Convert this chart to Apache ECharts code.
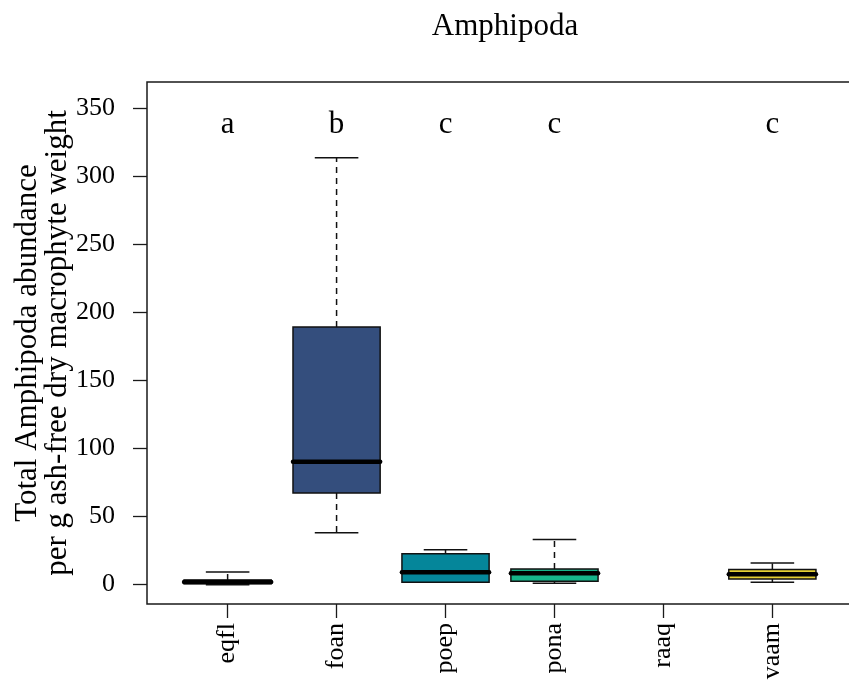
<!DOCTYPE html>
<html>
<head>
<meta charset="utf-8">
<script src="https://cdn.jsdelivr.net/npm/echarts@6/dist/echarts.min.js"></script>
<style>
  html, body { margin: 0; padding: 0; background: #ffffff; }
  #chart { width: 849px; height: 694px; }
</style>
</head>
<body>
<div id="chart"></div>
<script>
// Macrophyte species groups
const categories = ['eqfl', 'foan', 'poep', 'pona', 'raaq', 'vaam'];
// Five-number summaries per group: [lower whisker, Q1, median, Q3, upper whisker]
const boxStats = [
  [0.0, 0.6, 2.0, 3.4, 9.3],
  [38.2, 67.4, 90.3, 189.2, 313.6],
  [1.7, 1.7, 9.2, 22.7, 25.7],
  [1.0, 2.5, 8.3, 11.5, 33.2],
  null,
  [1.7, 4.2, 7.7, 11.2, 16.0]
];
// Fill colour of each box
const boxColors = ['#46327E', '#344E7D', '#05869A', '#16B48B', '#7AD151', '#E4CF35'];
// Significance group letters drawn above each box
const groupLetters = ['a', 'b', 'c', 'c', '', 'c'];
const letterLevel = 338;
// Y-axis tick values
const yTicks = [0, 50, 100, 150, 200, 250, 300, 350];

const FONT = '"Liberation Serif", "DejaVu Serif", serif';
const BASE = 26;

const boxData = [];
boxStats.forEach((s, i) => { if (s) boxData.push([i + 1].concat(s)); });

const letterData = groupLetters.map((t, i) => [i + 1, letterLevel, t]);

const chart = echarts.init(document.getElementById('chart'), null, { renderer: 'canvas' });

chart.setOption({
  animation: false,
  backgroundColor: '#ffffff',
  title: {
    text: 'Amphipoda',
    left: 500, top: 6, textAlign: 'center',
    textStyle: { fontFamily: FONT, fontSize: 31, fontWeight: 'normal', color: '#000' }
  },
  grid: {
    left: 147, top: 82, width: 706, height: 522,
    outerBoundsMode: 'none', containLabel: false,
    show: true, borderColor: '#1a1a1a', borderWidth: 1.5, backgroundColor: 'transparent'
  },
  xAxis: {
    type: 'value', min: 0.26, max: 6.74,
    splitLine: { show: false },
    axisLine: { show: false, onZero: false },
    axisTick: { show: true, inside: false, length: 14, customValues: [1, 2, 3, 4, 5, 6],
      lineStyle: { color: '#1a1a1a', width: 1.3 } },
    axisLabel: {
      customValues: [1, 2, 3, 4, 5, 6],
      rotate: 90, margin: 19,
      fontFamily: FONT, fontSize: BASE, color: '#000',
      formatter: v => categories[Math.round(v) - 1] || ''
    }
  },
  yAxis: {
    type: 'value', min: -14.2, max: 369.2,
    splitLine: { show: false },
    axisLine: { show: false, onZero: false },
    axisTick: { show: true, inside: false, length: 14, customValues: yTicks,
      lineStyle: { color: '#1a1a1a', width: 1.3 } },
    axisLabel: {
      customValues: yTicks, margin: 32,
      fontFamily: FONT, fontSize: BASE, color: '#000'
    }
  },
  graphic: [{
    type: 'text',
    x: 43, y: 343, rotation: Math.PI / 2,
    style: {
      text: 'Total Amphipoda abundance\nper g ash-free dry macrophyte weight',
      fontFamily: FONT, fontSize: 31, fill: '#000',
      align: 'center', verticalAlign: 'middle', lineHeight: 30
    }
  }],
  series: [
    {
      type: 'custom',
      name: 'box',
      data: boxData,
      encode: { x: 0, y: [1, 2, 3, 4, 5] },
      renderItem: function (params, api) {
        const x = api.value(0);
        const lo = api.coord([x, api.value(1)]);
        const q1 = api.coord([x, api.value(2)]);
        const md = api.coord([x, api.value(3)]);
        const q3 = api.coord([x, api.value(4)]);
        const hi = api.coord([x, api.value(5)]);
        const unit = api.size([1, 0])[0];
        const half = unit * 0.4;
        const cap = half * 0.5;
        const cx = q1[0];
        const stroke = { stroke: '#111', lineWidth: 1.5 };
        const dash = { stroke: '#111', lineWidth: 1.5, lineDash: [6, 5] };
        const kids = [];
        // whiskers
        if (hi[1] < q3[1] - 0.5) {
          kids.push({ type: 'line', shape: { x1: cx, y1: q3[1], x2: cx, y2: hi[1] }, style: dash });
        }
        if (lo[1] > q1[1] + 0.5) {
          kids.push({ type: 'line', shape: { x1: cx, y1: q1[1], x2: cx, y2: lo[1] }, style: dash });
        }
        // staples
        kids.push({ type: 'line', shape: { x1: cx - cap, y1: hi[1], x2: cx + cap, y2: hi[1] }, style: stroke });
        kids.push({ type: 'line', shape: { x1: cx - cap, y1: lo[1], x2: cx + cap, y2: lo[1] }, style: stroke });
        // box
        kids.push({
          type: 'rect',
          shape: { x: cx - half, y: q3[1], width: half * 2, height: q1[1] - q3[1] },
          style: { fill: boxColors[Math.round(x) - 1], stroke: '#111', lineWidth: 1.5 }
        });
        // median
        kids.push({
          type: 'line',
          shape: { x1: cx - half, y1: md[1], x2: cx + half, y2: md[1] },
          style: { stroke: '#000', lineWidth: 4.5, lineCap: 'round' }
        });
        return { type: 'group', children: kids };
      },
      z: 3
    },
    {
      type: 'custom',
      name: 'letters',
      data: letterData,
      encode: { x: 0, y: 1 },
      renderItem: function (params, api) {
        const p = api.coord([api.value(0), api.value(1)]);
        return {
          type: 'text', x: p[0], y: p[1],
          style: {
            text: groupLetters[params.dataIndex],
            fontFamily: FONT, fontSize: 31, fill: '#000',
            align: 'center', verticalAlign: 'middle'
          }
        };
      },
      z: 4
    }
  ]
});
</script>
</body>
</html>
